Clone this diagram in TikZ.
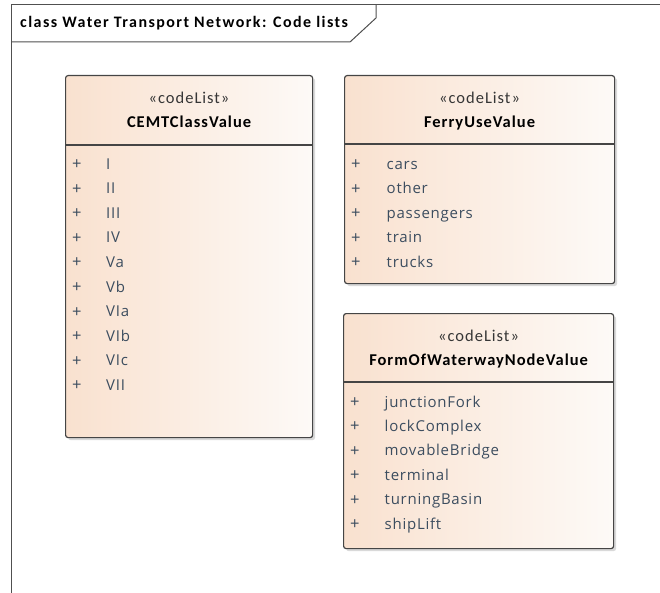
\documentclass[tikz,border=0pt]{standalone}
\usepackage{fontspec}
\newfontfamily\titlefont[LetterSpace=9]{Carlito}
\newfontfamily\stereofont[LetterSpace=6]{Carlito}
\newfontfamily\namefont[LetterSpace=6]{Carlito}
\newfontfamily\itemfont[LetterSpace=5]{Open Sans}
\usetikzlibrary{shadows}
\definecolor{framecol}{HTML}{505050}
\definecolor{boxline}{HTML}{454545}
\definecolor{peach}{HTML}{F9E1CF}
\definecolor{cream}{HTML}{FDFAF7}
\definecolor{itemcol}{HTML}{3C4D5F}
\definecolor{stereocol}{HTML}{363636}
\begin{document}
\begin{tikzpicture}[x=1pt,y=-1pt,
  cls/.style={draw=boxline, line width=1.2pt, rounded corners=2.5pt,
    left color=peach, right color=cream,
    drop shadow={shadow xshift=2.5pt, shadow yshift=-2.5pt, opacity=0.3, fill=gray},
    inner sep=0pt, anchor=north west},
  sepline/.style={draw=boxline, line width=1.2pt},
  stereo/.style={font=\stereofont\fontsize{16.5}{17}\selectfont, text=stereocol, inner sep=0pt, anchor=base},
  clsname/.style={font=\namefont\bfseries\fontsize{16.5}{17}\selectfont, text=black, inner sep=0pt, anchor=base},
  item/.style={font=\itemfont\fontsize{15}{16}\selectfont, text=itemcol, inner sep=0pt, anchor=base west},
  plus/.style={font=\itemfont\fontsize{16.5}{17}\selectfont, text=itemcol, inner sep=0pt, anchor=base west},
  framel/.style={draw=framecol, line width=1pt},
  titletxt/.style={font=\titlefont\bfseries\fontsize{16}{17}\selectfont, inner sep=0pt, anchor=base west}
]
\useasboundingbox (0,0) rectangle (660,593);
% frame
\coordinate (fbl) at (11,593);
\coordinate (ftl) at (11,5);
\coordinate (ftr) at (660,5);
\coordinate (tab1) at (11,42);
\coordinate (tab2) at (350,42);
\coordinate (tab3) at (376,18);
\coordinate (tab4) at (376,5);
\draw[framel] (fbl) -- (ftl) -- (ftr);
\draw[framel] (tab1) -- (tab2) -- (tab3) -- (tab4);
\node[titletxt] (title) at (20,28) {class Water Transport Network: Code lists};

% CEMTClassValue
\node[cls, minimum width=247pt, minimum height=362pt] (cemt) at (65,75) {};
\draw[sepline] ([yshift=-70pt]cemt.north west) -- ([yshift=-70pt]cemt.north east);
\node[stereo] (cemtst) at ([yshift=-28.3pt]cemt.north) {«codeList»};
\node[clsname] (cemtnm) at ([yshift=-52.7pt]cemt.north) {CEMTClassValue};
\foreach \t [count=\i] in {I,II,III,IV,Va,Vb,VIa,VIb,VIc,VII}{
  \node[plus] (cemtp\i) at ([xshift=7pt, yshift={-94.8pt-(\i-1)*24.55pt}]cemt.north west) {+};
  \node[item] (cemti\i) at ([xshift=41pt, yshift={-94.3pt-(\i-1)*24.55pt}]cemt.north west) {\t};
}

% FerryUseValue
\node[cls, minimum width=270pt, minimum height=208pt] (ferry) at (344,75) {};
\draw[sepline] ([yshift=-69pt]ferry.north west) -- ([yshift=-69pt]ferry.north east);
\node[stereo] (ferryst) at ([yshift=-28.3pt]ferry.north) {«codeList»};
\node[clsname] (ferrynm) at ([yshift=-52.7pt]ferry.north) {FerryUseValue};
\foreach \t [count=\i] in {cars,other,passengers,train,trucks}{
  \node[plus] (ferryp\i) at ([xshift=7pt, yshift={-94.8pt-(\i-1)*24.5pt}]ferry.north west) {+};
  \node[item] (ferryi\i) at ([xshift=42.5pt, yshift={-94.3pt-(\i-1)*24.5pt}]ferry.north west) {\t};
}

% FormOfWaterwayNodeValue
\node[cls, minimum width=270pt, minimum height=235pt] (form) at (343,313) {};
\draw[sepline] ([yshift=-69pt]form.north west) -- ([yshift=-69pt]form.north east);
\node[stereo] (formst) at ([yshift=-28.7pt]form.north) {«codeList»};
\node[clsname] (formnm) at ([yshift=-52.7pt]form.north) {FormOfWaterwayNodeValue};
\foreach \t [count=\i] in {junctionFork,lockComplex,movableBridge,terminal,turningBasin,shipLift}{
  \node[plus] (formp\i) at ([xshift=7pt, yshift={-94.5pt-(\i-1)*24.4pt}]form.north west) {+};
  \node[item] (formi\i) at ([xshift=41.5pt, yshift={-94pt-(\i-1)*24.4pt}]form.north west) {\t};
}
\end{tikzpicture}
\end{document}
